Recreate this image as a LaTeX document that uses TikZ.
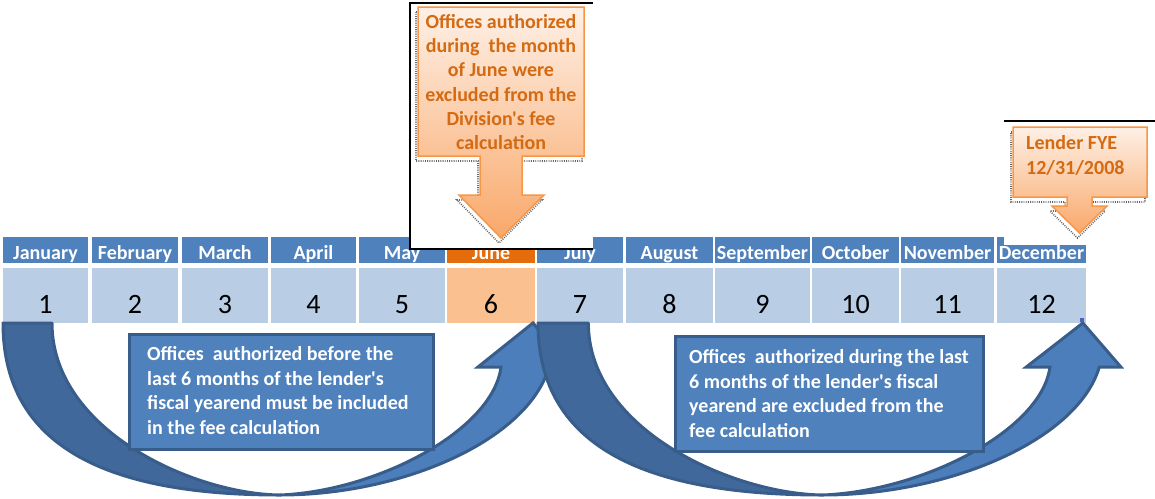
\documentclass[tikz,border=0pt]{standalone}
\usepackage{fontspec}
\setmainfont{Carlito}[Ligatures=TeXOff]
\definecolor{hblue}{HTML}{4F81BD}
\definecolor{cblue}{HTML}{B9CDE5}
\definecolor{horange}{HTML}{E46C0A}
\definecolor{corange}{HTML}{FAC090}
\definecolor{afront}{HTML}{4C7EBB}
\definecolor{aback}{HTML}{41689B}
\definecolor{aline}{HTML}{385D8A}
\definecolor{calltop}{HTML}{FEF0E6}
\definecolor{callbot}{HTML}{F9A86A}
\definecolor{callline}{HTML}{F79646}
\definecolor{calltext}{HTML}{D46A12}
\definecolor{handle}{HTML}{4F5FBF}
\newcommand\curvedarrow[2]{%
\begin{scope}[shift={(#1,0)}, xscale=#2]
 \filldraw[arrback] (0,323) .. controls (0,450) and (110,495) .. (277,495)
   .. controls (190,494) and (49,430) .. (49,323) -- cycle;
 \filldraw[arrfront] (277,495) .. controls (400,495) and (525,440) .. (546,367)
   -- (567,367) -- (530,323) -- (475,367) -- (498,367)
   .. controls (490,430) and (375,491) .. (277,495) -- cycle;
\end{scope}}
\begin{document}
\begin{tikzpicture}[x=1pt,y=-1pt,
  hdrtext/.style={text=white, font=\fontsize{20}{24}\selectfont\bfseries, anchor=base, inner sep=0pt},
  numtext/.style={text=black, font=\fontsize{28}{32}\selectfont, anchor=base, inner sep=0pt},
  callout/.style={draw=callline, line width=1.5pt, top color=calltop, bottom color=callbot, line join=miter},
  cshadow/.style={draw=black!60, line width=1.6pt, dash pattern=on 0.9pt off 1.3pt},
  calltxt/.style={text=calltext, font=\fontsize{20}{24.2}\selectfont\bfseries, inner sep=0pt},
  tbox/.style={draw=aline, fill=hblue, line width=3pt, anchor=north west, inner sep=0pt},
  boxtext/.style={text=white, font=\fontsize{20}{24.6}\selectfont\bfseries, align=left, anchor=west, inner sep=0pt},
  arrback/.style={fill=aback, draw=aline, line width=3pt, line join=round},
  arrfront/.style={fill=afront, draw=aline, line width=3pt, line join=miter, miter limit=4},
  frameline/.style={draw=black, line width=1.2pt}]
\useasboundingbox (0,0) rectangle (1155,498);
% month headers and number cells
\foreach \i/\m/\xl/\xr/\hc/\cc in {1/January/3/88/hblue/cblue, 2/February/92/178/hblue/cblue,
  3/March/182/268/hblue/cblue, 4/April/271/356/hblue/cblue, 5/May/359/445/hblue/cblue,
  6/June/447/535/horange/corange, 7/July/537/623/hblue/cblue, 8/August/626/713/hblue/cblue,
  9/September/715/810/hblue/cblue, 10/October/812/899/hblue/cblue,
  11/November/901/994/hblue/cblue, 12/December/997/1086/hblue/cblue}{
  \fill[\hc] (\xl,237) rectangle (\xr,263);
  \fill[\cc] (\xl,268) rectangle (\xr,323);
  \node[hdrtext] (m\i) at ({(\xl+\xr)/2},259) {\m};
  \node[numtext] (n\i) at ({(\xl+\xr)/2},313) {\i};
}
% picture frames
\fill[white] (410,3) rectangle (593,249);
\draw[frameline] (593,3) -- (410,3) -- (410,249) -- (593,249);
\fill[white] (1004,121) rectangle (1155,245);
\draw[frameline] (1004,121) -- (1155,121);
% June callout
\draw[cshadow] (416,12) -- (582,12) -- (582,161) -- (520,161) -- (520,200) -- (542,200)
  -- (499,243) -- (457,200) -- (478,200) -- (478,161) -- (416,161) -- cycle;
\path[callout] (418,7) -- (584,7) -- (584,156) -- (522,156) -- (522,195) -- (544,195)
  -- (501,238) -- (459,195) -- (480,195) -- (480,156) -- (418,156) -- cycle;
\node[calltxt, align=center] (c1) at (501,82) {Offices authorized\\during\ \ the month\\of June were\\excluded from the\\Division's fee\\calculation};
% Lender callout
\draw[cshadow] (1011,132) -- (1145,132) -- (1145,202) -- (1090,202) -- (1090,211) -- (1105,211)
  -- (1077.5,238) -- (1050,211) -- (1065,211) -- (1065,202) -- (1011,202) -- cycle;
\path[callout] (1013,127) -- (1147,127) -- (1147,197) -- (1092,197) -- (1092,206) -- (1107,206)
  -- (1079.5,233) -- (1052,206) -- (1067,206) -- (1067,197) -- (1013,197) -- cycle;
\node[calltxt, align=left, anchor=west] (c2) at (1026,155.5) {Lender FYE\\12/31/2008};
% curved arrows
\curvedarrow{3}{1}
\curvedarrow{538}{1.028}
\fill[handle] (1080,318) rectangle (1084,322);
% text boxes
\node[tbox, minimum width=304pt, minimum height=115pt] (box1) at (128,333) {};
\node[boxtext] (t1) at (147,390.5) {Offices\ \ authorized before the\\last 6 months of the lender's\\fiscal yearend must be included\\in the fee calculation};
\node[tbox, minimum width=308pt, minimum height=115pt] (box2) at (674,335) {};
\node[boxtext] (t2) at (689,393.5) {Offices\ \ authorized during the last\\6 months of the lender's fiscal\\yearend are excluded from the\\fee calculation};
\end{tikzpicture}
\end{document}
